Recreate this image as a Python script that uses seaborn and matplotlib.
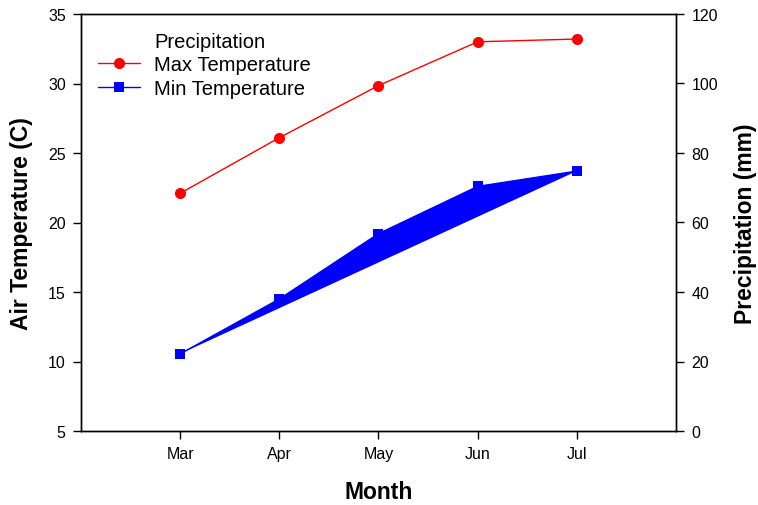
import matplotlib
matplotlib.use("Agg")
import matplotlib.pyplot as plt
import seaborn as sns
import pandas as pd
from matplotlib.lines import Line2D

months = ["Mar", "Apr", "May", "Jun", "Jul"]
month_num = [3, 4, 5, 6, 7]
max_temp = [22.1, 26.1, 29.85, 33.0, 33.2]
min_temp = [10.55, 14.5, 19.2, 22.6, 23.7]
precip = []  # no precipitation values drawn

sns.set_theme(style="ticks")
plt.rcParams['font.family'] = ['Liberation Sans', 'DejaVu Sans']
for k in ["text.color", "axes.labelcolor", "xtick.color", "ytick.color", "axes.edgecolor"]:
    plt.rcParams[k] = "black"

df = pd.DataFrame({"month": month_num, "max": max_temp, "min": min_temp})

fig = plt.figure(figsize=(7.58, 5.06), dpi=100)
ax = fig.add_axes([81/758, 1-432/506, (676-81)/758, (432-15)/506])

# filled polygon of min temperature
ax.fill(df["month"], df["min"], color="#0000ff", lw=0, zorder=2)
sns.lineplot(data=df, x="month", y="min", ax=ax, color="#0000ff", lw=1,
             marker="s", markersize=7, markeredgewidth=0, zorder=3)
sns.lineplot(data=df, x="month", y="max", ax=ax, color="#ff0000", lw=1,
             marker="o", markersize=8, markeredgewidth=0, zorder=3)

ax.set_xlim(2, 8)
ax.set_ylim(5, 35)
ax.set_xticks(month_num)
ax.set_xticklabels(months)
ax.set_yticks(range(5, 36, 5))
ax.set_xlabel("Month", fontsize=16.5, fontweight="bold")
ax.set_ylabel("Air Temperature (C)", fontsize=16.5, fontweight="bold")
ax.xaxis.label.set_va("center")
ax.yaxis.label.set_va("center")
ax.xaxis.set_label_coords(0.5, -0.144)
ax.yaxis.set_label_coords(-0.0992, 0.5)
ax.tick_params(axis="both", labelsize=11.5, length=6, width=1, pad=5, direction="out")
for s in ax.spines.values():
    s.set_linewidth(1)

ax2 = ax.twinx()
ax2.set_ylim(0, 120)
ax2.set_yticks(range(0, 121, 20))
ax2.set_ylabel("Precipitation (mm)", fontsize=16.5, fontweight="bold")
ax2.yaxis.label.set_va("center")
ax2.yaxis.set_label_coords(1.116, 0.5)
ax2.tick_params(axis="y", labelsize=11.5, length=6, width=1, pad=5, direction="out")
for s in ax2.spines.values():
    s.set_linewidth(1)

handles = [
    Line2D([], [], color="none", label="Precipitation"),
    Line2D([], [], color="#ff0000", lw=1, marker="o", markersize=8, markeredgewidth=0, label="Max Temperature"),
    Line2D([], [], color="#0000ff", lw=1, marker="s", markersize=7, markeredgewidth=0, label="Min Temperature"),
]
ax.legend(handles=handles, loc="upper left", bbox_to_anchor=(17/595, 1 - 18/417), frameon=False,
          fontsize=14.5, handlelength=2.1, handletextpad=0.7, labelspacing=0.22,
          borderaxespad=0, borderpad=0)

fig.savefig("out.png", dpi=100)
